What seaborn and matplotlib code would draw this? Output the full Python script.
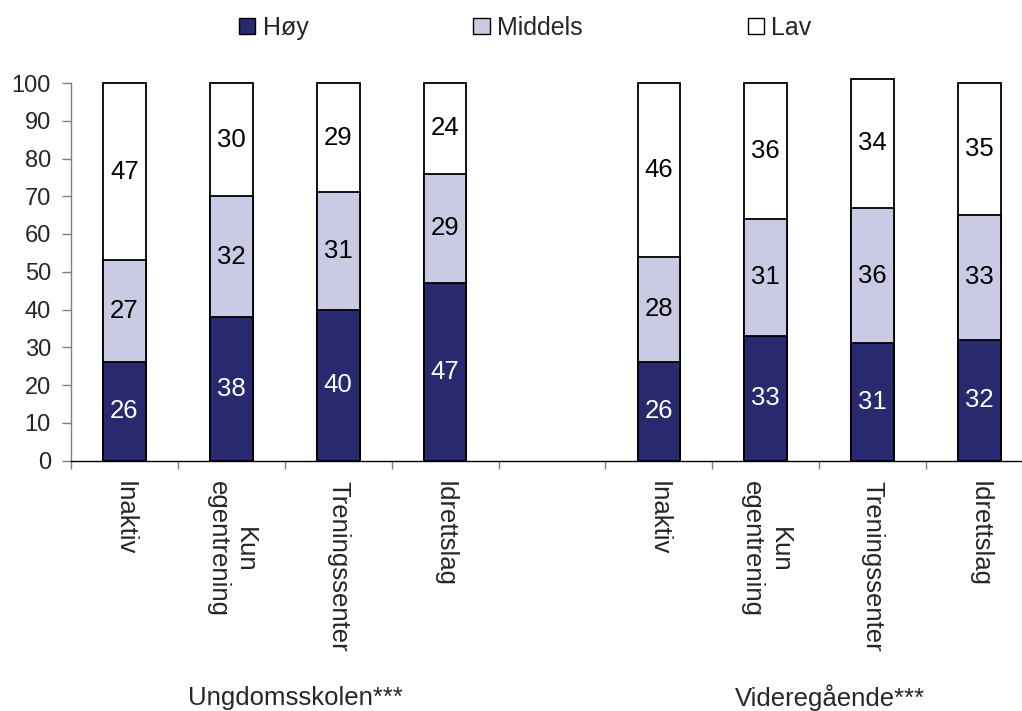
import matplotlib
matplotlib.use("Agg")
import matplotlib.pyplot as plt
import matplotlib.transforms as mtransforms
from matplotlib.patches import Patch
import numpy as np
import pandas as pd
import seaborn as sns

# Activity categories and school levels
groups = ["Ungdomsskolen***", "Videregående***"]
activities = ["Inaktiv", "Kun\negentrening", "Treningssenter", "Idrettslag"]
levels = ["Høy", "Middels", "Lav"]

# Percentages per level (Høy / Middels / Lav)
hoy_ungdom = [26, 38, 40, 47]
middels_ungdom = [27, 32, 31, 29]
lav_ungdom = [47, 30, 29, 24]

hoy_vgs = [26, 33, 31, 32]
middels_vgs = [28, 31, 36, 33]
lav_vgs = [46, 36, 34, 35]

colors = {"Høy": "#292970", "Middels": "#CBCAE5", "Lav": "#FFFFFF"}

sns.set_style("white")
plt.rcParams["font.family"] = ["Liberation Sans", "DejaVu Sans"]

# Long table: one row per bar, with a gap slot between the two school levels
rows = []
for g, (hv, mv, lv) in enumerate([(hoy_ungdom, middels_ungdom, lav_ungdom),
                                   (hoy_vgs, middels_vgs, lav_vgs)]):
    for i, act in enumerate(activities):
        rows.append({"group": groups[g], "activity": act, "pos": i + 5 * g,
                     "Høy": hv[i], "Middels": mv[i], "Lav": lv[i]})
df = pd.DataFrame(rows)
df["cum_hoy"] = df["Høy"]
df["cum_mid"] = df["Høy"] + df["Middels"]
df["cum_lav"] = df["Høy"] + df["Middels"] + df["Lav"]

fig = plt.figure(figsize=(10.22, 7.11), dpi=100)
ax = fig.add_axes([71 / 1022, (711 - 460.5) / 711, 962 / 1022, 377.5 / 711])

# Stacked bars: draw cumulative totals from the top segment down
for col, lvl in [("cum_lav", "Lav"), ("cum_mid", "Middels"), ("cum_hoy", "Høy")]:
    sns.barplot(data=df, x="pos", y=col, native_scale=True, width=0.4,
                color=colors[lvl], saturation=1, edgecolor="black",
                linewidth=1.3, errorbar=None, ax=ax)
for p in ax.patches:
    p.set_clip_on(False)

# Segment value labels
for _, r in df.iterrows():
    bottom = 0
    for lvl in levels:
        v = r[lvl]
        ax.text(r["pos"], bottom + v / 2, f"{v:d}", ha="center", va="center",
                fontsize=18.5, color="white" if lvl == "Høy" else "black")
        bottom += v

ax.set_xlim(-0.5, 8.5)
ax.set_ylim(0, 100)
ax.set_yticks(np.arange(0, 101, 10))
ax.tick_params(axis="y", which="major", length=6.5, width=1, color="#7f7f7f",
               pad=8, labelsize=17, direction="out", left=True)

positions = df["pos"].tolist()
ax.set_xticks(positions)
ax.set_xticklabels(df["activity"].tolist(), rotation=-90, ha="center", va="top",
                   fontsize=18.5)
for lab in ax.get_xticklabels():
    lab.set_multialignment("center")
ax.set_xticks(np.arange(-0.5, 9.0, 1.0), minor=True)
ax.tick_params(axis="x", which="major", length=0, pad=15)
ax.tick_params(axis="x", which="minor", length=6, width=1, color="#7f7f7f",
               direction="out", bottom=True)
ax.set_xlabel("")
ax.set_ylabel("")

for side in ["top", "right"]:
    ax.spines[side].set_visible(False)
ax.spines["left"].set_color("#7f7f7f")
ax.spines["left"].set_linewidth(1)
ax.spines["bottom"].set_color("black")
ax.spines["bottom"].set_linewidth(1)

# Group captions below the activity labels
blend = mtransforms.blended_transform_factory(ax.transData, fig.transFigure)
for g, name in enumerate(groups):
    center = df.loc[df["group"] == name, "pos"].mean()
    ax.text(center + 0.1, 13 / 711, name, transform=blend, ha="center",
            va="center", fontsize=18.5)

handles = [Patch(facecolor=colors[l], edgecolor="black", linewidth=1) for l in levels]
fig.legend(handles, levels, ncol=3, loc="center", bbox_to_anchor=(0.514, 0.961),
           frameon=False, fontsize=18, columnspacing=6.6, handlelength=0.65,
           handleheight=0.65, handletextpad=0.3)

fig.savefig("out.png", dpi=100)
